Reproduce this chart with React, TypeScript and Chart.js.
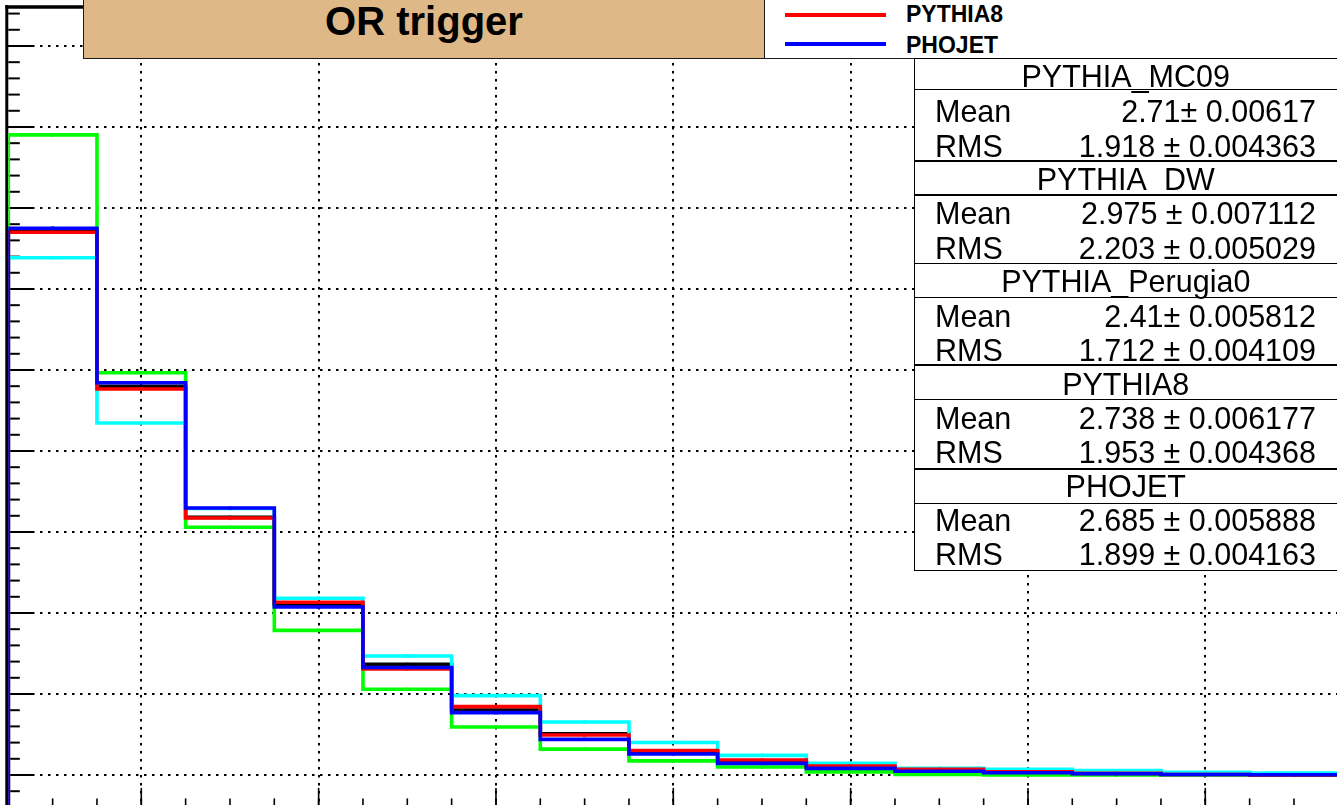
import React, { useEffect, useRef } from 'react';
import { Chart, registerables } from 'chart.js';

Chart.register(...registerables);

// ---- data (bin centres and normalised contents) ----
const binCenters = [1, 2, 3, 4, 5, 6, 7, 8, 9, 10, 11, 12, 13, 14, 15];
const pythiaMC09 = [0.3364, 0.2399, 0.159, 0.1054, 0.0683, 0.0401, 0.0255, 0.0142, 0.008, 0.005, 0.003, 0.0018, 0.0009, 0.0004, 0.0002];
const pythiaDW = [0.3193, 0.2173, 0.1645, 0.1091, 0.0735, 0.049, 0.0327, 0.0201, 0.0121, 0.0072, 0.0041, 0.0035, 0.0027, 0.0016, 0.0012];
const pythiaPerugia0 = [0.3951, 0.2483, 0.1529, 0.0893, 0.0529, 0.0296, 0.016, 0.0087, 0.0049, 0.0019, 0.0004, 0.0001, 0.0, 0.0, 0.0];
const pythia8 = [0.335, 0.2383, 0.1586, 0.1066, 0.0655, 0.0422, 0.0247, 0.0151, 0.0093, 0.0056, 0.0035, 0.002, 0.001, 0.0003, 0.0001];
const phojet = [0.3375, 0.2421, 0.1648, 0.1037, 0.0664, 0.0385, 0.022, 0.013, 0.0072, 0.0041, 0.0023, 0.0014, 0.0008, 0.0003, 0.0002];

// ---- axes ----
const X_MIN = 0.5;
const X_MAX = 15.5;
const Y_MIN = -0.02;
const Y_MAX = 0.474;
const xMajorTicks = [2, 4, 6, 8, 10, 12, 14];
const xMinorStep = 0.5;
const yMajorTicks = [0, 0.05, 0.1, 0.15, 0.2, 0.25, 0.3, 0.35, 0.4, 0.45];
const yMinorStep = 0.01;

// ---- legend & stats text ----
const legendLabels = ['PYTHIA8', 'PHOJET'];
const legendColors = ['#ff0000', '#0000ff'];
const statNames = ['PYTHIA_MC09', 'PYTHIA_DW', 'PYTHIA_Perugia0', 'PYTHIA8', 'PHOJET'];
const statMeans = ['2.71\u00b1 0.00617', '2.975 \u00b1 0.007112', '2.41\u00b1 0.005812', '2.738 \u00b1 0.006177', '2.685 \u00b1 0.005888'];
const statRMS = ['1.918 \u00b1 0.004363', '2.203 \u00b1 0.005029', '1.712 \u00b1 0.004109', '1.953 \u00b1 0.004368', '1.899 \u00b1 0.004163'];
const titleText = 'OR trigger';

const FONT = '"Liberation Sans", Arial, Helvetica, sans-serif';

function minorTicks(lo: number, hi: number, step: number): number[] {
  const out: number[] = [];
  const n = Math.round((hi - lo) / step);
  for (let i = 0; i <= n; i++) out.push(Math.round((lo + i * step) * 1e6) / 1e6);
  return out;
}

function histPoints(vals: number[]) {
  const pts: any[] = [{ x: binCenters[0] - 0.5, y: Y_MIN }];
  vals.forEach((v, i) => {
    pts.push({ x: binCenters[i] - 0.5, y: v });
    pts.push({ x: binCenters[i], y: v, c: true });
  });
  const last = binCenters.length - 1;
  pts.push({ x: binCenters[last] + 0.5, y: vals[last] });
  return pts;
}

const decorPlugin = {
  id: 'rootDecor',
  beforeDatasetsDraw(chart: any) {
    const { ctx, chartArea: a, scales } = chart;
    const xs = scales.x;
    const ys = scales.y;
    const seg = (x1: number, y1: number, x2: number, y2: number) => {
      ctx.beginPath();
      ctx.moveTo(x1, y1);
      ctx.lineTo(x2, y2);
      ctx.stroke();
    };
    ctx.save();
    ctx.strokeStyle = '#000';
    ctx.setLineDash([]);
    ctx.lineWidth = 2;
    minorTicks(-0.01, 0.47, yMinorStep).forEach((v) => {
      const py = ys.getPixelForValue(v);
      seg(a.left, py, a.left + 11.5, py);
    });
    yMajorTicks.forEach((v) => {
      const py = ys.getPixelForValue(v);
      seg(a.left, py, a.left + 24.5, py);
    });
    ctx.lineWidth = 1.6;
    minorTicks(1, 15.5, xMinorStep).forEach((v) => {
      const px = xs.getPixelForValue(v);
      seg(px, a.bottom, px, a.bottom - 9);
    });
    xMajorTicks.forEach((v) => {
      const px = xs.getPixelForValue(v);
      seg(px, a.bottom, px, a.bottom - 19.5);
    });
    ctx.lineWidth = 3;
    seg(a.left - 1.5, a.top - 2, a.left - 1.5, a.bottom + 5);
    ctx.lineWidth = 3.5;
    seg(a.left - 3, a.top, a.right, a.top);
    ctx.restore();
  },
};

export default function App() {
  const ref = useRef<HTMLCanvasElement>(null);

  useEffect(() => {
    document.body.style.margin = '0';
    document.body.style.overflow = 'hidden';
    const canvas = ref.current;
    if (!canvas) return;

    const series = [
      { label: 'PHOJET', data: phojet, color: '#0000ff' },
      { label: 'PYTHIA8', data: pythia8, color: '#ff0000' },
      { label: 'PYTHIA_Perugia0', data: pythiaPerugia0, color: '#00ff00' },
      { label: 'PYTHIA_DW', data: pythiaDW, color: '#00ffff' },
      { label: 'PYTHIA_MC09', data: pythiaMC09, color: '#000000' },
    ];

    const gridCommon = {
      color: '#000',
      lineWidth: 2,
      drawTicks: false,
      borderDash: [2.5, 5.5],
    };

    const chart = new Chart(canvas, {
      type: 'line',
      data: {
        datasets: series.map((s) => ({
          label: s.label,
          data: histPoints(s.data),
          borderColor: s.color,
          backgroundColor: s.color,
          borderWidth: 3.6,
          stepped: true,
          fill: false,
          pointStyle: 'rect',
          pointRadius: (c: any) => (c.raw && c.raw.c ? 2.3 : 0),
          pointBorderWidth: 0,
          pointBackgroundColor: s.color,
          pointHoverRadius: 0,
        })) as any,
      },
      options: {
        responsive: false,
        animation: false,
        devicePixelRatio: 1,
        events: [],
        layout: { padding: { left: 8.3, top: 7.1, right: 1360 - 1338.3, bottom: 830 - 807.4 } },
        plugins: {
          legend: { display: false },
          tooltip: { enabled: false },
          title: { display: false },
        },
        scales: {
          x: {
            type: 'linear',
            min: X_MIN,
            max: X_MAX,
            afterBuildTicks: (s: any) => {
              s.ticks = xMajorTicks.map((v) => ({ value: v }));
            },
            ticks: { display: false },
            grid: gridCommon as any,
            border: { display: false, dash: [2.5, 5.5] } as any,
          },
          y: {
            type: 'linear',
            min: Y_MIN,
            max: Y_MAX,
            afterBuildTicks: (s: any) => {
              s.ticks = yMajorTicks.map((v) => ({ value: v }));
            },
            ticks: { display: false },
            grid: gridCommon as any,
            border: { display: false, dash: [2.5, 5.5] } as any,
          },
        },
      } as any,
      plugins: [decorPlugin as any],
    });

    return () => chart.destroy();
  }, []);

  // stats box geometry (page px)
  const boxLeft = 913.5;
  const boxTop = 57.7;
  const boxBottom = 570.7;
  const groupTops = [57.7, 161, 263.3, 365, 469];
  const sepYs = [89.3, 195, 297.7, 399.3, 503.3];
  const titleCenters = [76.5, 179.5, 281.5, 384, 486.5];
  const meanCenters = [111.5, 213.5, 316, 418.5, 520.5];
  const rmsCenters = [146, 248, 350, 452.5, 554.5];
  const statFs = 30.5;
  const valueRight = 1316;

  const hLine = (y: number, key: string) => (
    <div key={key} style={{ position: 'absolute', left: boxLeft, width: 500, top: y - 0.75, height: 1.5, background: '#000' }} />
  );

  const centered = (cy: number, style: React.CSSProperties, content: React.ReactNode, key: string) => (
    <div
      key={key}
      style={{
        position: 'absolute',
        top: cy - 20,
        height: 40,
        display: 'flex',
        alignItems: 'center',
        fontFamily: FONT,
        fontSize: statFs,
        color: '#000',
        whiteSpace: 'nowrap',
        ...style,
      }}
    >
      {content}
    </div>
  );

  return (
    <div
      style={{
        position: 'fixed',
        left: 0,
        top: 0,
        width: 1337,
        height: 805,
        overflow: 'hidden',
        background: '#fff',
      }}
    >
      <canvas
        ref={ref}
        width={1360}
        height={830}
        style={{ position: 'absolute', left: 0, top: 0, width: 1360, height: 830 }}
      />

      {/* title box */}
      <div
        style={{
          position: 'absolute',
          left: 83,
          top: -2,
          width: 682,
          height: 60.5,
          boxSizing: 'border-box',
          border: '1.5px solid #1a1a1a',
          background: '#DEB887',
        }}
      >
        <div
          style={{
            position: 'absolute',
            left: 0,
            right: 0,
            top: 1.6,
            textAlign: 'center',
            fontFamily: FONT,
            fontWeight: 'bold',
            fontSize: 40,
            lineHeight: '40px',
            color: '#000',
            whiteSpace: 'nowrap',
          }}
        >
          {titleText}
        </div>
      </div>

      {/* legend box */}
      <div
        style={{
          position: 'absolute',
          left: 764,
          top: -2,
          width: 620,
          height: 60.5,
          boxSizing: 'border-box',
          border: '1.5px solid #1a1a1a',
          background: '#fff',
        }}
      />
      {legendLabels.map((lab, i) => (
        <React.Fragment key={lab}>
          <div
            style={{
              position: 'absolute',
              left: 785,
              top: [13.3, 42][i],
              width: 101,
              height: 3.6,
              background: legendColors[i],
            }}
          />
          <div
            style={{
              position: 'absolute',
              left: 906,
              top: [22, 53.5][i] - 0.8465 * 23,
              fontFamily: FONT,
              fontWeight: 'bold',
              fontSize: 23,
              lineHeight: '23px',
              color: '#000',
              whiteSpace: 'nowrap',
            }}
          >
            {lab}
          </div>
        </React.Fragment>
      ))}

      {/* stats box */}
      <div
        style={{
          position: 'absolute',
          left: boxLeft,
          top: boxTop,
          width: 500,
          height: boxBottom - boxTop,
          boxSizing: 'border-box',
          border: '1.5px solid #000',
          background: '#fff',
        }}
      />
      {groupTops.slice(1).map((y, i) => hLine(y, 'g' + i))}
      {sepYs.map((y, i) => hLine(y, 's' + i))}
      {statNames.map((name, g) => (
        <React.Fragment key={name}>
          {centered(titleCenters[g], { left: boxLeft, width: 1337 - boxLeft + 1, justifyContent: 'center' }, name, 't' + g)}
          {centered(meanCenters[g], { left: 935 }, 'Mean', 'ml' + g)}
          {centered(meanCenters[g], { right: 1337 - valueRight }, statMeans[g], 'mv' + g)}
          {centered(rmsCenters[g], { left: 935 }, 'RMS', 'rl' + g)}
          {centered(rmsCenters[g], { right: 1337 - valueRight }, statRMS[g], 'rv' + g)}
        </React.Fragment>
      ))}
    </div>
  );
}
